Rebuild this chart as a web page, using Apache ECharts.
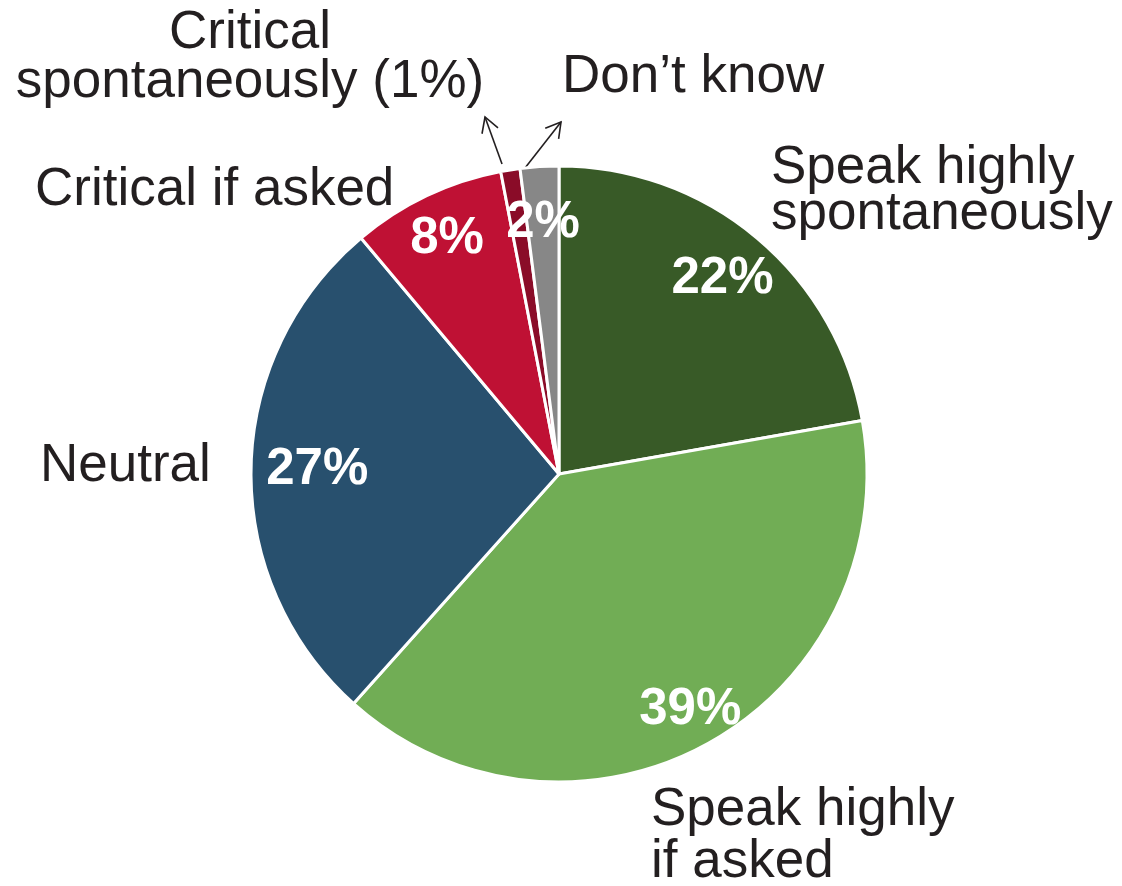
<!DOCTYPE html>
<html>
<head>
<meta charset="utf-8">
<title>Pie chart</title>
<script src="https://cdn.jsdelivr.net/npm/echarts@6/dist/echarts.min.js"></script>
<style>
  html, body { margin: 0; padding: 0; background: #ffffff; }
  #chart { width: 1122px; height: 886px; }
</style>
</head>
<body>
<div id="chart"></div>
<script>
// Categories, shares (%) and the text shown next to each slice
const categories = [
  'Speak highly spontaneously',
  'Speak highly if asked',
  'Neutral',
  'Critical if asked',
  'Critical spontaneously',
  'Don\u2019t know'
];
const shares = [22, 39, 27, 8, 1, 2];
const outerLabels = [
  'Speak highly\nspontaneously',
  'Speak highly\nif asked',
  'Neutral',
  'Critical if asked',
  'Critical\nspontaneously (1%)',
  'Don\u2019t know'
];
// slices that carry a percentage inside them
const showInner = [true, true, true, true, false, true];

const sliceColors = ['#385a27', '#71ad55', '#28506e', '#bf1134', '#8a0c28', '#878787'];

// geometry of the pie
const CX = 559, CY = 474, R = 308;
const FONT = '"Liberation Sans", Arial, Helvetica, sans-serif';
const TEXT = '#231f20';

// where the outer captions sit
const outerPos = [
  { x: 771, y: 191, align: 'left',   lh: 46 },
  { x: 651, y: 836, align: 'left',   lh: 52 },
  { x: 40,  y: 466, align: 'left',   lh: 52 },
  { x: 35,  y: 190, align: 'left',   lh: 52 },
  { x: 250, y: 58,  align: 'center', lh: 49 },
  { x: 562, y: 77,  align: 'left',   lh: 52 }
];
// radial placement of the percentage labels (fraction of the radius)
const innerRatio = [0.81, 0.86, 0.77, 0.83, 0.8, 0.8];

const mainData = categories.map((name, i) => ({
  name: name,
  value: shares[i],
  itemStyle: { color: sliceColors[i] },
  label: { lineHeight: outerPos[i].lh, align: outerPos[i].align }
}));

const innerData = categories.map((name, i) => ({
  name: name,
  value: shares[i],
  label: { show: showInner[i] }
}));

// small open-headed arrows pointing from the thin slices to their captions
function arrow(x1, y1, x2, y2) {
  const dx = x2 - x1, dy = y2 - y1;
  const len = Math.hypot(dx, dy);
  const ux = dx / len, uy = dy / len;
  const head = 17, spread = Math.PI / 6;
  const w = (a) => {
    const c = Math.cos(a), s = Math.sin(a);
    const bx = -ux, by = -uy;
    return [x2 + head * (bx * c - by * s), y2 + head * (bx * s + by * c)];
  };
  const style = { stroke: TEXT, lineWidth: 1.6, fill: null };
  return [
    { type: 'polyline', shape: { points: [[x1, y1], [x2, y2]] }, style: style, silent: true },
    { type: 'polyline', shape: { points: [w(spread), [x2, y2], w(-spread)] }, style: style, silent: true }
  ];
}

const chart = echarts.init(document.getElementById('chart'), null, { renderer: 'canvas' });

chart.setOption({
  backgroundColor: '#ffffff',
  animation: false,
  graphic: [].concat(
    arrow(502, 164, 485, 117),
    arrow(525, 168, 561, 122)
  ),
  series: [
    {
      type: 'pie',
      center: [CX, CY],
      radius: [0, R],
      startAngle: 90,
      clockwise: true,
      avoidLabelOverlap: false,
      silent: true,
      itemStyle: { borderColor: '#ffffff', borderWidth: 3 },
      label: {
        show: true,
        position: 'outside',
        formatter: (p) => outerLabels[p.dataIndex],
        fontFamily: FONT,
        fontSize: 53,
        color: TEXT
      },
      labelLine: { show: false },
      labelLayout: (p) => ({
        x: outerPos[p.dataIndex].x,
        y: outerPos[p.dataIndex].y,
        align: outerPos[p.dataIndex].align,
        verticalAlign: 'middle'
      }),
      data: mainData
    },
    {
      type: 'pie',
      center: [CX, CY],
      radius: [0, R],
      startAngle: 90,
      clockwise: true,
      avoidLabelOverlap: false,
      silent: true,
      z: 5,
      itemStyle: { color: 'rgba(0,0,0,0)', borderWidth: 0 },
      label: {
        show: true,
        position: 'inside',
        formatter: (p) => p.value + '%',
        fontFamily: FONT,
        fontSize: 51,
        fontWeight: 'bold',
        color: '#ffffff'
      },
      labelLine: { show: false },
      // push each percentage outward along its slice's bisector
      labelLayout: (p) => {
        const r = p.labelRect;
        const lx = r.x + r.width / 2, ly = r.y + r.height / 2;
        const k = innerRatio[p.dataIndex] / 0.5;
        return {
          x: CX + (lx - CX) * k,
          y: CY + (ly - CY) * k,
          align: 'center',
          verticalAlign: 'middle'
        };
      },
      data: innerData
    }
  ]
});
</script>
</body>
</html>
